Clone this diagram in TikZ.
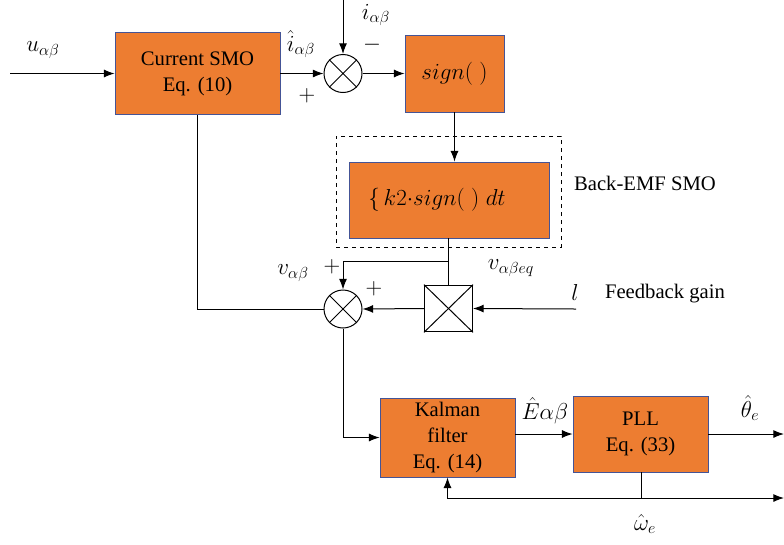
\documentclass[tikz,border=0pt]{standalone}
\usepackage{fontspec}
\setmainfont{Liberation Serif}
\usetikzlibrary{arrows.meta}
\definecolor{smoorange}{RGB}{237,125,49}
\definecolor{smoedge}{RGB}{68,84,150}

\begin{document}
\begin{tikzpicture}[x=0.75pt,y=-0.75pt,font=\fontsize{15.5}{19.5}\selectfont]
\def\l{8pt}
\def\w{6pt}
\tikzset{
  blk/.style={draw=smoedge, fill=smoorange, line width=0.6pt, align=center, inner sep=0pt},
  summ/.style={draw, circle, fill=white, minimum size=28.5pt, inner sep=0pt, line width=0.75pt},
  mulbox/.style={draw, fill=white, minimum width=36pt, minimum height=35pt, inner sep=0pt, line width=0.75pt},
  mlbl/.style={font=\fontsize{17.5}{20}\selectfont, inner sep=1pt},
  wire/.style={line width=0.75pt},
  arr/.style={wire, -{Latex[length=\l, width=\w]}}
}
\useasboundingbox (0,0) rectangle (784,544);

% blocks
\node [blk, minimum width=123.75pt, minimum height=61.5pt, name=cur] at (197.5,73.5) {Current SMO\\Eq. (10)};
\node [blk, minimum width=74.25pt, minimum height=57.75pt, name=sg, font=\fontsize{17.5}{20}\selectfont] at (454.5,73.5) {$sign(\;)$};
\node [draw, dashed, line width=0.75pt, minimum width=168.75pt, minimum height=83.25pt, name=bemf] at (448.5,191.5) {};
\node [blk, minimum width=150pt, minimum height=57pt, name=integ, font=\fontsize{16.5}{19}\selectfont] at (449,200) {$\{\,k2{\cdot}sign(\;)\;dt$\hspace{18pt}};
\node [blk, minimum width=101.25pt, minimum height=59.25pt, name=kal] at (447.5,437.5) {Kalman\\filter\\Eq. (14)};
\node [blk, minimum width=101.25pt, minimum height=57pt, name=pll] at (640.5,434) {PLL\\Eq. (33)};

% summing points and gain
\node [summ, name=s1] at (343,73.5) {};
\node [summ, name=s2] at (343,309) {};
\node [mulbox, name=mul] at (448.5,308.5) {};
\draw [wire] (s1.45) -- (s1.225) (s1.135) -- (s1.315);
\draw [wire] (s2.45) -- (s2.225) (s2.135) -- (s2.315);
\draw [wire] (mul.north west) -- (mul.south east) (mul.north east) -- (mul.south west);

% free ends
\coordinate (uin) at (10,73.5);
\coordinate (itop) at (343,0);
\coordinate (lin) at (576,309);
\coordinate (thout) at (784,434);
\coordinate (wout) at (784,498);
\coordinate (j1) at (448.5,261);
\coordinate (wj) at (641,498);

% signals
\draw [arr] (uin) -- (cur.west);
\draw [arr] (cur.east) -- (s1.west);
\draw [arr] (itop) -- (s1.north);
\draw [arr] (s1.east) -- (sg.west);
\draw [arr] (sg.south) -- (sg.south |- integ.north);
\draw [wire] (integ.south -| mul.north) -- (mul.north);
\draw [arr] (j1) -| (s2.north);
\draw [arr] (lin) -- (mul.east);
\draw [arr] (mul.west) -- (s2.east);
\draw [wire] (cur.south) |- (s2.west);
\draw [arr] (s2.south) |- (kal.west);
\draw [arr] (kal.east |- pll.west) -- (pll.west);
\draw [arr] (pll.east) -- (thout);
\draw [wire] (pll.south -| wj) -- (wj);
\draw [arr] (kal.south |- wj) -- (wout);
\draw [arr] (wj) -| (kal.south);

% labels
\node [mlbl, name=lu] at (43,50) {$u_{\alpha\beta}$};
\node [mlbl, name=lih] at (301,44) {$\hat{i}_{\alpha\beta}$};
\node [mlbl, name=li] at (376,15) {$i_{\alpha\beta}$};
\node [mlbl, name=lm] at (372,45) {$-$};
\node [mlbl, name=lp1] at (307,96) {$+$};
\node [mlbl, name=lv] at (293,273) {$v_{\alpha\beta}$};
\node [mlbl, name=lp2] at (332,267) {$+$};
\node [mlbl, name=lp3] at (374,289) {$+$};
\node [mlbl, name=lveq] at (511,268) {$v_{\alpha\beta eq}$};
\node [mlbl, name=ll] at (575,292) {$l$};
\node [name=lfb] at (665,294) {Feedback gain};
\node [name=lsmo] at (645,183) {Back-EMF SMO};
\node [mlbl, name=le] at (545,411) {$\hat{E}\alpha\beta$};
\node [mlbl, name=lth] at (750,408) {$\hat{\theta}_e$};
\node [mlbl, name=lw] at (645,524) {$\hat{\omega}_e$};
\end{tikzpicture}
\end{document}
